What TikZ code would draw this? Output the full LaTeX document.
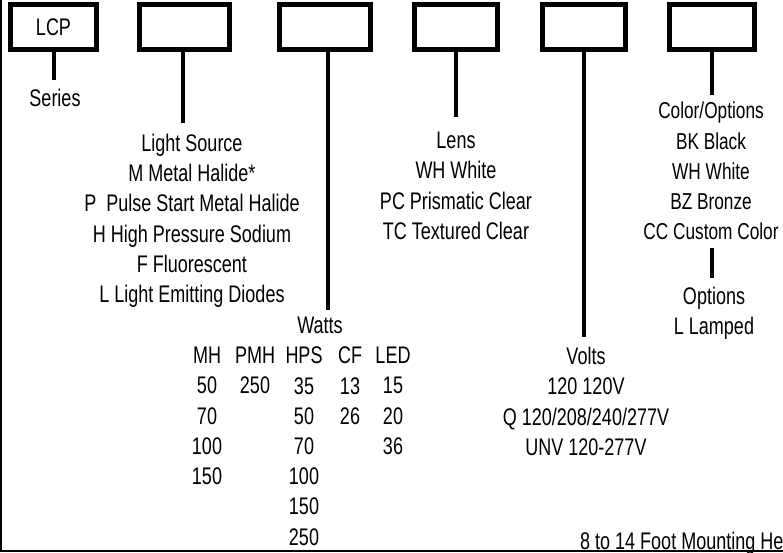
\documentclass[tikz,border=0pt]{standalone}
\usepackage{fontspec}
\setmainfont{Liberation Sans}[FakeStretch=0.75]
\begin{document}
\begin{tikzpicture}[
      x=1pt, y=-1pt,
      every node/.style={font=\fontsize{24}{30.2}\selectfont, inner sep=0pt},
      slot/.style={draw, line width=5pt, minimum width=86pt, minimum height=45pt},
      lead/.style={line width=3.5pt},
      key/.style={align=center, anchor=north}
    ]
      \useasboundingbox (0,0) rectangle (783,552);
      \clip (0,0) rectangle (783,552);
      \draw[line width=2pt] (1,0) -- (1,551) -- (783,551);

      % code boxes
      \node[slot] (series) at (53.5,27) {LCP};
      \node[slot, minimum width=90pt] (source) at (184.5,27) {};
      \node[slot, minimum width=91pt] (watt) at (325,27) {};
      \node[slot, minimum width=83pt] (lens) at (456,27) {};
      \node[slot, minimum width=83pt] (volt) at (584,27) {};
      \node[slot, minimum width=85pt] (color) at (712,27) {};

      % leads
      \coordinate (seriesEnd) at (54,80);
      \coordinate (sourceEnd) at (183,123);
      \coordinate (wattEnd) at (328,310);
      \coordinate (lensEnd) at (456,117);
      \coordinate (voltEnd) at (584,337);
      \coordinate (colorEnd) at (712,95);
      \draw[lead] (seriesEnd |- series.south) -- (seriesEnd);
      \draw[lead] (sourceEnd |- source.south) -- (sourceEnd);
      \draw[lead] (wattEnd |- watt.south) -- (wattEnd);
      \draw[lead] (lens.south) -- (lensEnd);
      \draw[lead] (volt.south) -- (voltEnd);
      \draw[lead] (color.south) -- (colorEnd);

      % legends
      \node[key] (seriesTxt) at (55,89) {Series};
      \node[key] (sourceTxt) at (192,134) {Light Source\\M Metal Halide*\\P~ Pulse Start Metal Halide\\H High Pressure Sodium\\F Fluorescent\\L Light Emitting Diodes};
      \node[key] (lensTxt) at (456,132) {Lens\\WH White\\PC Prismatic Clear\\TC Textured Clear};
      \node[key, font=\fontsize{23}{30.2}\selectfont] (colorTxt) at (711,102) {Color/Options\\BK Black\\WH White\\BZ Bronze\\CC Custom Color};
      \coordinate (optTop) at (712,248);
      \coordinate (optEnd) at (712,278);
      \draw[lead] (optTop) -- (optEnd);
      \node[key] (optTxt) at (714,287) {Options\\L Lamped};
      \node[key] (voltTxt) at (586,347) {Volts\\120 120V\\Q 120/208/240/277V\\UNV 120-277V};

      % watts table
      \node[key] (wattTxt) at (320,317) {Watts};
      \node[key] (mh) at (207,347) {MH\\50\\70\\100\\150};
      \node[key] (pmh) at (255,347) {PMH\\250};
      \node[key] (hps) at (304,347) {HPS\\35\\50\\70\\100\\150\\250};
      \node[key] (cf) at (350,347) {CF\\13\\26};
      \node[key] (led) at (393,347) {LED\\15\\20\\36};

      \node[anchor=base west] (height) at (580,549) {8 to 14 Foot Mounting Height};
    \end{tikzpicture}
\end{document}
